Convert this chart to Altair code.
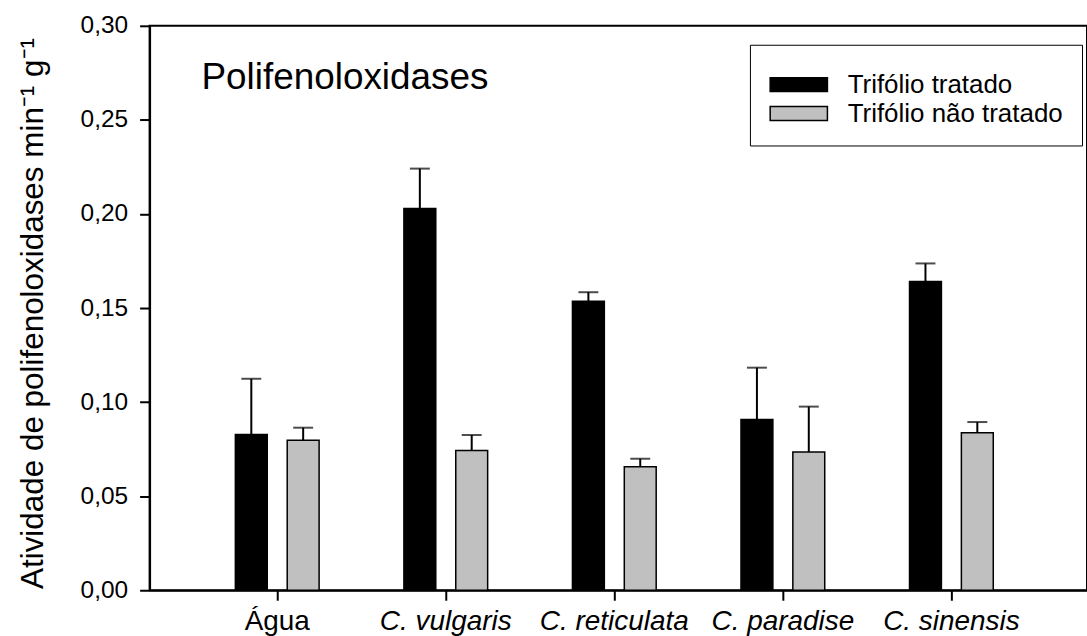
import altair as alt
import pandas as pd

categories = ["Água", "C. vulgaris", "C. reticulata", "C. paradise", "C. sinensis"]
series = ["Trifólio tratado", "Trifólio não tratado"]
treated_mean = [0.0828, 0.2029, 0.1536, 0.0908, 0.1641]
treated_err = [0.0296, 0.0212, 0.0048, 0.0275, 0.0096]
untreated_mean = [0.0797, 0.0743, 0.0657, 0.0735, 0.0837]
untreated_err = [0.0067, 0.0082, 0.0042, 0.0241, 0.0057]
y_ticks = [0.0, 0.05, 0.10, 0.15, 0.20, 0.25, 0.30]
bar_colors = ["#000000", "#c0c0c0"]
panel_title = ["Polifenoloxidases"]

rows = []
for i, c in enumerate(categories):
    rows.append({"cat": c, "grupo": series[0], "v": treated_mean[i],
                 "up": treated_mean[i] + treated_err[i]})
    rows.append({"cat": c, "grupo": series[1], "v": untreated_mean[i],
                 "up": untreated_mean[i] + untreated_err[i]})
df = pd.DataFrame(rows)
title_df = pd.DataFrame({"t": panel_title})

FONT = "Liberation Sans"

x_enc = alt.X(
    "cat:N", sort=categories,
    scale=alt.Scale(paddingInner=0, paddingOuter=0.281, align=0.458),
    axis=alt.Axis(title=None, labelAngle=0, labelFontSize=28, labelPadding=7,
                  tickSize=10, labelFontStyle={"condition": {"test": "datum.value === 'Água'", "value": "normal"}, "value": "italic"}),
)
xo_enc = alt.XOffset("grupo:N", sort=series,
                     scale=alt.Scale(domain=series, paddingInner=0.385, paddingOuter=0.8175))
y_scale = alt.Scale(domain=[0, 0.30], nice=False, zero=True)
y_axis = alt.Axis(values=y_ticks, grid=False, tickSize=10, labelFontSize=24.5, labelPadding=12,
                  labelExpr="replace(format(datum.value, '.2f'), '.', ',')",
                  title="Atividade de polifenoloxidases min⁻¹ g⁻¹",
                  titleFontSize=31.5, titleFontWeight="normal", titleAngle=270,
                  titleX=-116, titleY=288, titleAlign="center", titleBaseline="middle")

base = alt.Chart(df)

bars = base.mark_bar(stroke="black", strokeWidth=1.5).encode(
    x=x_enc,
    xOffset=xo_enc,
    y=alt.Y("v:Q", scale=y_scale, axis=y_axis),
    color=alt.Color(
        "grupo:N", sort=series,
        scale=alt.Scale(domain=series, range=bar_colors),
        legend=alt.Legend(
            title=" ", titleFontSize=8, titlePadding=0,
            orient="none", legendX=602, legendY=19,
            strokeColor="black", fillColor="white", padding=19,
            symbolType="M-4.1,-1H4.1V1H-4.1Z", symbolSize=196,
            symbolOffset=17, symbolStrokeColor="black", symbolStrokeWidth=1.5,
            labelFontSize=26, labelOffset=36, rowPadding=3, labelFont=FONT,
            labelColor="black", labelLimit=400,
        ),
    ),
)

err_rule = base.mark_rule(color="black", strokeWidth=2).encode(
    x=x_enc, xOffset=xo_enc, y=alt.Y("v:Q", scale=y_scale, axis=y_axis), y2="up:Q"
)
err_cap = base.mark_tick(color="black", thickness=2, size=20).encode(
    x=x_enc, xOffset=xo_enc, y=alt.Y("up:Q", scale=y_scale, axis=y_axis)
)

title_text = alt.Chart(title_df).mark_text(
    align="left", baseline="alphabetic", fontSize=37, font=FONT, color="black"
).encode(x=alt.value(52), y=alt.value(63), text="t:N")

chart = alt.layer(err_rule, bars, err_cap, title_text).properties(
    width=940, height=566,
    autosize=alt.AutoSizeParams(type="none"),
    padding={"left": 150, "top": 25, "right": 0, "bottom": 45},
    background="white",
).configure_view(
    stroke="black", strokeWidth=2
).configure_axis(
    domainColor="black", domainWidth=2, tickColor="black", tickWidth=2,
    labelColor="black", titleColor="black", labelFont=FONT, titleFont=FONT,
)

chart.save("out.html", embed_options={"renderer": "svg", "actions": False})
